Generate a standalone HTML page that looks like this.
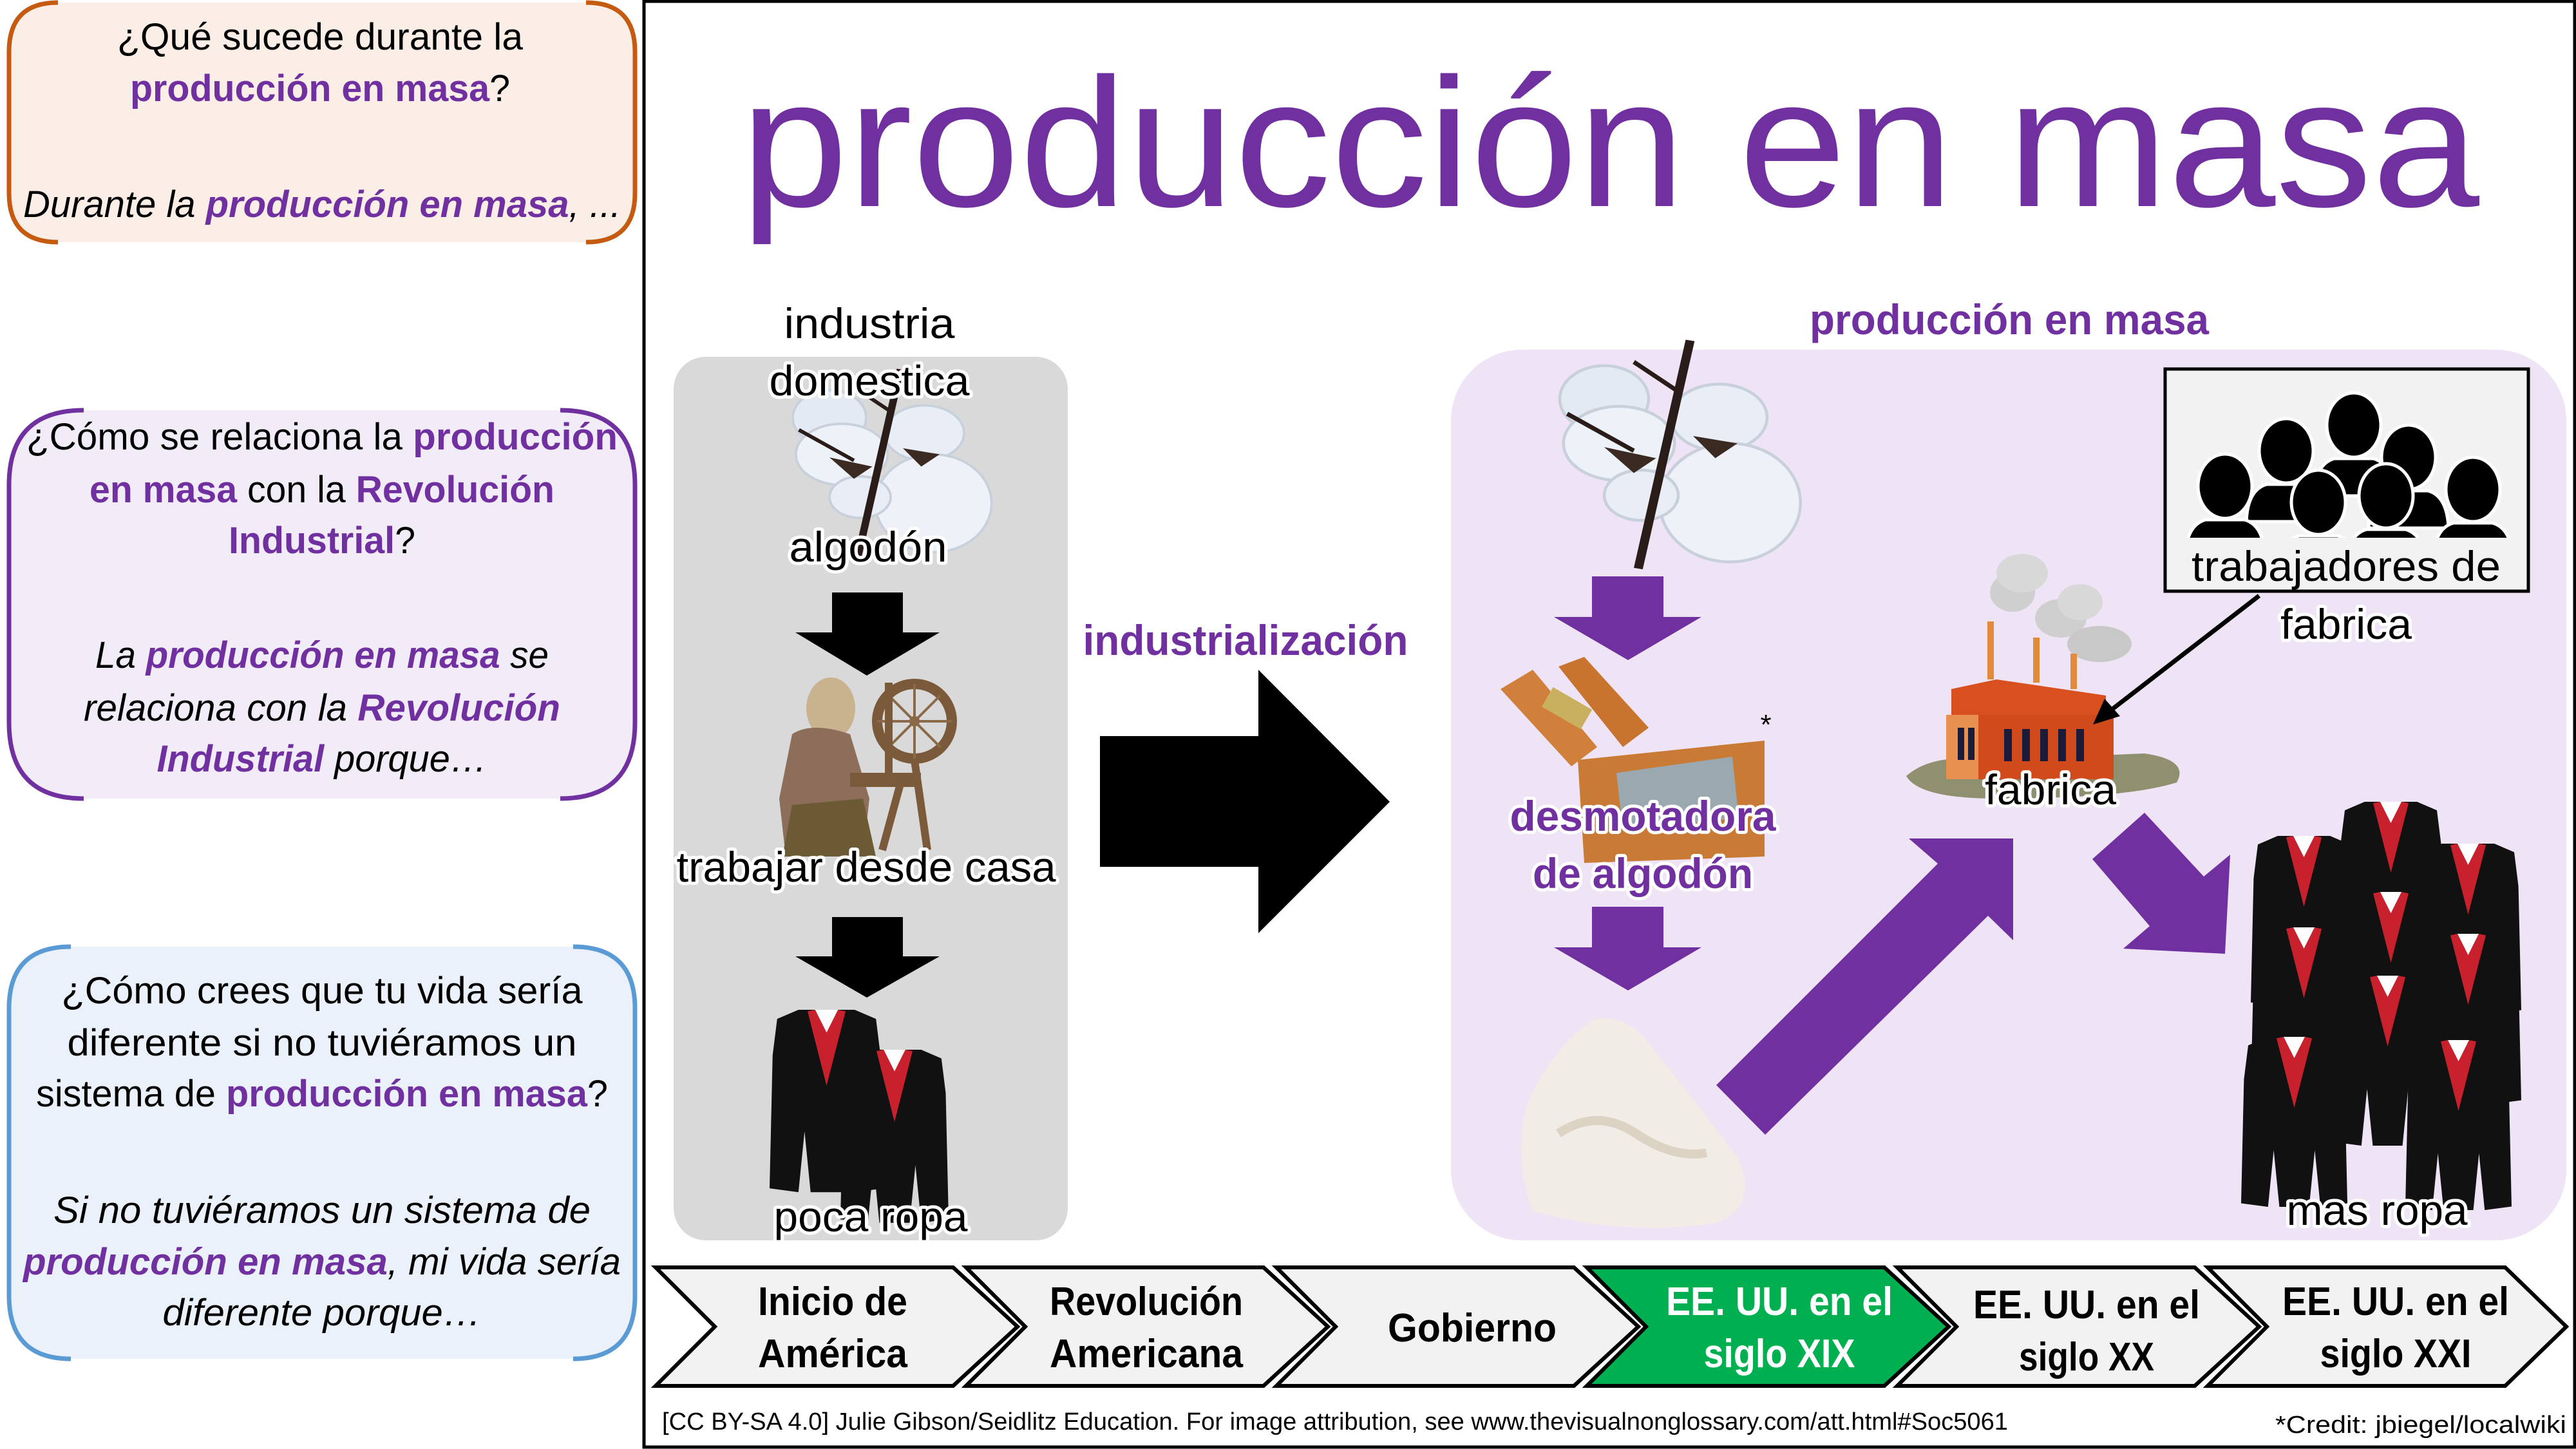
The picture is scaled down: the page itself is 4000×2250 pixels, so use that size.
<!DOCTYPE html>
<html><head><meta charset="utf-8"><style>
html,body{margin:0;padding:0;background:#fff;}
svg{display:block;}
text{font-family:"Liberation Sans",sans-serif;}
.halo{paint-order:stroke;stroke:#fff;stroke-width:10px;stroke-linejoin:round;}
</style></head><body>
<svg width="4000" height="2250" viewBox="0 0 4000 2250" xmlns="http://www.w3.org/2000/svg">
<defs>
<g id="suit">
<path d="M38,0 L112,0 L140,12 L146,60 L150,235 L112,240 L104,160 L96,240 L54,240 L46,160 L38,240 L0,235 L4,60 L10,12 Z" fill="#111"/>
<path d="M50,2 L75,100 L100,2 L90,0 L75,30 L60,0 Z" fill="#c8202c"/>
<path d="M60,0 L75,30 L90,0 Z" fill="#fff"/>
</g>
<g id="person">
<ellipse cx="0" cy="0" rx="42" ry="50" fill="#000" stroke="#fff" stroke-width="5"/>
<path d="M-62,110 Q-60,60 -30,52 L30,52 Q60,60 62,110 Z" fill="#000" stroke="#fff" stroke-width="5"/>
</g>
<g id="cotton">
<ellipse cx="-60" cy="-70" rx="60" ry="45" fill="#e4eaf4" stroke="#c8d0dc" stroke-width="4"/>
<ellipse cx="-40" cy="-10" rx="75" ry="50" fill="#edf1f8" stroke="#c8d0dc" stroke-width="4"/>
<ellipse cx="95" cy="-45" rx="65" ry="45" fill="#e8edf6" stroke="#c8d0dc" stroke-width="4"/>
<ellipse cx="110" cy="70" rx="95" ry="80" fill="#eef2f8" stroke="#c8d0dc" stroke-width="4"/>
<ellipse cx="-10" cy="60" rx="50" ry="34" fill="#e8edf6" stroke="#c8d0dc" stroke-width="4"/>
<path d="M50,-150 L62,-148 L-8,160 L-20,158 Z" fill="#2a1c18"/>
<path d="M-110,-50 L-20,0 M40,-80 L-20,-120" stroke="#2a1c18" stroke-width="6"/>
<path d="M-60,-5 L-20,30 L10,10 Z M60,-20 L90,10 L120,-10 Z" fill="#3b2a22"/>
</g>
</defs>

<!-- Left boxes -->
<path d="M90,4 Q14,4 14,80 L14,300 Q14,376 90,376 L910,376 Q986,376 986,300 L986,80 Q986,4 910,4 Z" fill="#fbeee6"/>
<path d="M90,4 Q14,4 14,80 L14,300 Q14,376 90,376 M910,4 Q986,4 986,80 L986,300 Q986,376 910,376" fill="none" stroke="#c55a11" stroke-width="7"/>
<path d="M130,637 Q14,637 14,753 L14,1122 Q14,1240 130,1240 L870,1240 Q986,1240 986,1122 L986,753 Q986,637 870,637 Z" fill="#f2ebf8"/>
<path d="M130,637 Q14,637 14,753 L14,1122 Q14,1240 130,1240 M870,637 Q986,637 986,753 L986,1122 Q986,1240 870,1240" fill="none" stroke="#7030a0" stroke-width="7"/>
<path d="M110,1470 Q14,1470 14,1566 L14,2012 Q14,2110 110,2110 L890,2110 Q986,2110 986,2012 L986,1566 Q986,1470 890,1470 Z" fill="#eaf1fa"/>
<path d="M110,1470 Q14,1470 14,1566 L14,2012 Q14,2110 110,2110 M890,1470 Q986,1470 986,1566 L986,2012 Q986,2110 890,2110" fill="none" stroke="#5b9bd5" stroke-width="7"/>

<g font-size="58" text-anchor="middle" fill="#000">
<text x="497" y="77" textLength="630" lengthAdjust="spacingAndGlyphs">¿Qué sucede durante la</text>
<text x="497" y="157" textLength="590" lengthAdjust="spacingAndGlyphs"><tspan fill="#7030a0" font-weight="bold">producción en masa</tspan>?</text>
<text x="500" y="337" font-style="italic" textLength="928" lengthAdjust="spacingAndGlyphs">Durante la <tspan fill="#7030a0" font-weight="bold">producción en masa</tspan>, ...</text>

<text x="500" y="698" textLength="918" lengthAdjust="spacingAndGlyphs">¿Cómo se relaciona la <tspan fill="#7030a0" font-weight="bold">producción</tspan></text>
<text x="500" y="780" textLength="722" lengthAdjust="spacingAndGlyphs"><tspan fill="#7030a0" font-weight="bold">en masa</tspan> con la <tspan fill="#7030a0" font-weight="bold">Revolución</tspan></text>
<text x="500" y="859" textLength="290" lengthAdjust="spacingAndGlyphs"><tspan fill="#7030a0" font-weight="bold">Industrial</tspan>?</text>
<text x="500" y="1037" font-style="italic" textLength="704" lengthAdjust="spacingAndGlyphs">La <tspan fill="#7030a0" font-weight="bold">producción en masa</tspan> se</text>
<text x="500" y="1119" font-style="italic" textLength="740" lengthAdjust="spacingAndGlyphs">relaciona con la <tspan fill="#7030a0" font-weight="bold">Revolución</tspan></text>
<text x="500" y="1198" font-style="italic" textLength="513" lengthAdjust="spacingAndGlyphs"><tspan fill="#7030a0" font-weight="bold">Industrial</tspan> porque…</text>

<text x="500" y="1558" textLength="809" lengthAdjust="spacingAndGlyphs">¿Cómo crees que tu vida sería</text>
<text x="500" y="1639" textLength="791" lengthAdjust="spacingAndGlyphs">diferente si no tuviéramos un</text>
<text x="500" y="1718" textLength="888" lengthAdjust="spacingAndGlyphs">sistema de <tspan fill="#7030a0" font-weight="bold">producción en masa</tspan>?</text>
<text x="500" y="1899" font-style="italic" textLength="834" lengthAdjust="spacingAndGlyphs">Si no tuviéramos un sistema de</text>
<text x="500" y="1979" font-style="italic" textLength="928" lengthAdjust="spacingAndGlyphs"><tspan fill="#7030a0" font-weight="bold">producción en masa</tspan>, mi vida sería</text>
<text x="500" y="2058" font-style="italic" textLength="495" lengthAdjust="spacingAndGlyphs">diferente porque…</text>
</g>

<!-- main frame -->
<rect x="1000" y="2" width="2998" height="2245" fill="none" stroke="#000" stroke-width="5"/>

<!-- Title -->
<text x="2500" y="320" font-size="285" text-anchor="middle" fill="#7030a0" textLength="2700" lengthAdjust="spacingAndGlyphs">producción en masa</text>

<!-- Grey box -->
<rect x="1046" y="554" width="612" height="1372" rx="50" fill="#d9d9d9"/>
<g transform="translate(1345,715) scale(0.95)"><use href="#cotton"/></g>
<polygon points="1292,920 1402,920 1402,982 1459,982 1346,1049 1235,982 1292,982" fill="#000"/>
<polygon points="1292,1424 1402,1424 1402,1485 1459,1485 1346,1549 1235,1485 1292,1485" fill="#000"/>
<!-- spinning woman -->
<g>
<ellipse cx="1290" cy="1100" rx="38" ry="48" fill="#c9b38e"/>
<path d="M1230,1140 Q1260,1120 1320,1140 L1350,1240 L1340,1330 L1220,1330 L1210,1240 Z" fill="#8c6e5a"/>
<path d="M1230,1250 L1340,1240 L1360,1330 L1215,1330 Z" fill="#6b5a34"/>
<circle cx="1420" cy="1120" r="58" fill="none" stroke="#7a5a3a" stroke-width="16"/>
<circle cx="1420" cy="1120" r="8" fill="#7a5a3a"/>
<path d="M1420,1062 L1420,1178 M1362,1120 L1478,1120 M1380,1080 L1460,1160 M1460,1080 L1380,1160" stroke="#8a6a48" stroke-width="4"/>
<rect x="1320" y="1200" width="110" height="22" fill="#7a5a3a"/>
<path d="M1380,1060 L1380,1210 M1420,1180 L1440,1320 M1400,1210 L1370,1320" stroke="#7a5a3a" stroke-width="12"/>
</g>
<g transform="translate(1195,1568) scale(1.18)"><use href="#suit"/></g>
<g transform="translate(1305,1630) scale(1.12)"><use href="#suit"/></g>
<g font-size="66" text-anchor="middle" fill="#000">
<text x="1350" y="525" textLength="265" lengthAdjust="spacingAndGlyphs">industria</text>
<text class="halo" x="1350" y="614" textLength="311" lengthAdjust="spacingAndGlyphs">domestica</text>
<text class="halo" x="1348" y="872" textLength="245" lengthAdjust="spacingAndGlyphs">algodón</text>
<text class="halo" x="1345" y="1369" textLength="589" lengthAdjust="spacingAndGlyphs">trabajar desde casa</text>
<text class="halo" x="1352" y="1912" textLength="301" lengthAdjust="spacingAndGlyphs">poca ropa</text>
</g>

<!-- Big black arrow -->
<polygon points="1708,1143 1954,1143 1954,1040 2158,1245 1954,1449 1954,1346 1708,1346" fill="#000"/>
<text x="1934" y="1017" font-size="66" font-weight="bold" text-anchor="middle" fill="#7030a0" textLength="505" lengthAdjust="spacingAndGlyphs">industrialización</text>

<!-- Purple box -->
<rect x="2253" y="543" width="1732" height="1383" rx="110" fill="#efe4f6"/>
<text x="3120" y="519" font-size="66" font-weight="bold" text-anchor="middle" fill="#7030a0" textLength="620" lengthAdjust="spacingAndGlyphs">producción en masa</text>
<g transform="translate(2560,700) scale(1.15)"><use href="#cotton"/></g>
<polygon points="2472,895 2583,895 2583,958 2642,958 2528,1025 2413,958 2472,958" fill="#7030a0"/>
<polygon points="2472,1408 2583,1408 2583,1471 2642,1471 2528,1538 2413,1471 2472,1471" fill="#7030a0"/>
<!-- cotton gin -->
<g>
<path d="M2330,1070 L2380,1040 L2480,1160 L2440,1190 Z" fill="#d0803a"/>
<path d="M2420,1035 L2460,1020 L2560,1130 L2520,1160 Z" fill="#c8742e"/>
<rect x="2400" y="1080" width="70" height="35" fill="#c8b060" transform="rotate(30 2430 1095)"/>
<path d="M2450,1180 L2740,1150 L2740,1330 L2460,1340 Z" fill="#c97a34"/>
<path d="M2510,1200 L2690,1175 L2700,1270 L2520,1290 Z" fill="#9aa8b0"/>
</g>
<text x="2742" y="1140" font-size="44" text-anchor="middle" fill="#000">*</text>
<text class="halo" x="2551" y="1290" font-size="66" font-weight="bold" text-anchor="middle" fill="#7030a0" textLength="413" lengthAdjust="spacingAndGlyphs">desmotadora</text>
<text class="halo" x="2551" y="1379" font-size="66" font-weight="bold" text-anchor="middle" fill="#7030a0" textLength="342" lengthAdjust="spacingAndGlyphs">de algodón</text>
<!-- cotton lump -->
<path d="M2380,1880 Q2350,1800 2370,1720 Q2400,1640 2470,1585 Q2520,1570 2560,1620 Q2640,1720 2700,1800 Q2730,1880 2660,1900 Q2520,1920 2380,1880 Z" fill="#f1ede6"/>
<path d="M2420,1760 Q2480,1720 2540,1760 Q2600,1800 2650,1790" fill="none" stroke="#ddd3c4" stroke-width="14"/>
<!-- diagonal arrows -->
<polygon points="2665,1685 3009,1341 2964,1302 3126,1302 3126,1460 3087,1422 2741,1762" fill="#7030a0"/>
<polygon points="3330,1262 3422,1361 3463,1327 3455,1481 3297,1473 3338,1438 3249,1334" fill="#7030a0"/>
<!-- factory -->
<g>
<path d="M2960,1205 Q3000,1170 3080,1180 L3330,1170 Q3400,1180 3380,1215 Q3300,1240 3100,1240 Q2980,1240 2960,1205 Z" fill="#8f9070"/>
<ellipse cx="3125" cy="920" rx="35" ry="30" fill="#cfcfcf"/><ellipse cx="3140" cy="890" rx="40" ry="30" fill="#d8d8d8"/>
<ellipse cx="3200" cy="960" rx="40" ry="30" fill="#cfcfcf"/><ellipse cx="3230" cy="935" rx="35" ry="28" fill="#d8d8d8"/>
<ellipse cx="3260" cy="1000" rx="50" ry="28" fill="#c8c8c8"/>
<rect x="3086" y="965" width="10" height="90" fill="#e08a3a"/>
<rect x="3157" y="990" width="10" height="70" fill="#e08a3a"/>
<rect x="3215" y="1015" width="10" height="55" fill="#e08a3a"/>
<path d="M3030,1070 L3100,1055 L3270,1080 L3270,1130 L3030,1130 Z" fill="#d8501e"/>
<rect x="3022" y="1110" width="260" height="100" fill="#d04a1c"/>
<rect x="3022" y="1110" width="50" height="100" fill="#e89050"/>
<g fill="#1a1a3a"><rect x="3040" y="1130" width="10" height="50"/><rect x="3056" y="1130" width="10" height="50"/><rect x="3112" y="1132" width="12" height="50"/><rect x="3140" y="1132" width="12" height="50"/><rect x="3168" y="1132" width="12" height="50"/><rect x="3196" y="1132" width="12" height="50"/><rect x="3224" y="1132" width="12" height="50"/></g>
</g>
<text class="halo" x="3184" y="1249" font-size="66" text-anchor="middle" fill="#000" textLength="204" lengthAdjust="spacingAndGlyphs">fabrica</text>
<!-- workers box -->
<rect x="3362" y="573" width="564" height="345" fill="#f2f2f2" stroke="#000" stroke-width="5"/>
<g>
<use href="#person" x="3655" y="660"/>
<use href="#person" x="3550" y="700"/>
<use href="#person" x="3740" y="710"/>
<use href="#person" x="3455" y="755"/>
<use href="#person" x="3840" y="760"/>
<use href="#person" x="3600" y="780"/>
<use href="#person" x="3705" y="770"/>
</g>
<rect x="3365" y="835" width="558" height="80" fill="#f2f2f2"/>
<text x="3643" y="902" font-size="66" text-anchor="middle" fill="#000" textLength="480" lengthAdjust="spacingAndGlyphs">trabajadores de</text>
<text class="halo" x="3643" y="992" font-size="66" text-anchor="middle" fill="#000" textLength="204" lengthAdjust="spacingAndGlyphs">fabrica</text>
<line x1="3508" y1="925" x2="3275" y2="1105" stroke="#000" stroke-width="7"/>
<polygon points="3250,1125 3268,1085 3292,1112" fill="#000"/>
<!-- mas ropa suits -->
<g transform="translate(3630,1245) scale(1.1)"><use href="#suit"/></g>
<g transform="translate(3495,1298) scale(1.1)"><use href="#suit"/></g>
<g transform="translate(3750,1310) scale(1.1)"><use href="#suit"/></g>
<g transform="translate(3630,1385) scale(1.1)"><use href="#suit"/></g>
<g transform="translate(3495,1440) scale(1.1)"><use href="#suit"/></g>
<g transform="translate(3750,1450) scale(1.1)"><use href="#suit"/></g>
<g transform="translate(3625,1515) scale(1.1)"><use href="#suit"/></g>
<g transform="translate(3480,1610) scale(1.1)"><use href="#suit"/></g>
<g transform="translate(3735,1615) scale(1.1)"><use href="#suit"/></g>
<text class="halo" x="3691" y="1902" font-size="66" text-anchor="middle" fill="#000" textLength="281" lengthAdjust="spacingAndGlyphs">mas ropa</text>

<!-- Timeline chevrons -->
<g stroke="#000" stroke-width="6" stroke-linejoin="miter">
<polygon points="1018,1968 1480,1968 1580,2060 1480,2152 1018,2152 1110,2060" fill="#f2f2f2"/>
<polygon points="1500,1968 1962,1968 2062,2060 1962,2152 1500,2152 1592,2060" fill="#f2f2f2"/>
<polygon points="1982,1968 2444,1968 2544,2060 2444,2152 1982,2152 2074,2060" fill="#f2f2f2"/>
<polygon points="2464,1968 2926,1968 3026,2060 2926,2152 2464,2152 2556,2060" fill="#00b050"/>
<polygon points="2946,1968 3408,1968 3508,2060 3408,2152 2946,2152 3038,2060" fill="#f2f2f2"/>
<polygon points="3428,1968 3890,1968 3985,2060 3890,2152 3428,2152 3520,2060" fill="#f2f2f2"/>
</g>
<g font-size="62" font-weight="bold" text-anchor="middle" fill="#000">
<text x="1293" y="2042" textLength="232" lengthAdjust="spacingAndGlyphs">Inicio de</text>
<text x="1293" y="2123" textLength="232" lengthAdjust="spacingAndGlyphs">América</text>
<text x="1780" y="2042" textLength="300" lengthAdjust="spacingAndGlyphs">Revolución</text>
<text x="1780" y="2123" textLength="300" lengthAdjust="spacingAndGlyphs">Americana</text>
<text x="2286" y="2083" textLength="262" lengthAdjust="spacingAndGlyphs">Gobierno</text>
<text x="2763" y="2042" fill="#fff" textLength="352" lengthAdjust="spacingAndGlyphs">EE. UU. en el</text>
<text x="2763" y="2123" fill="#fff" textLength="235" lengthAdjust="spacingAndGlyphs">siglo XIX</text>
<text x="3240" y="2047" textLength="352" lengthAdjust="spacingAndGlyphs">EE. UU. en el</text>
<text x="3240" y="2128" textLength="210" lengthAdjust="spacingAndGlyphs">siglo XX</text>
<text x="3720" y="2042" textLength="352" lengthAdjust="spacingAndGlyphs">EE. UU. en el</text>
<text x="3720" y="2123" textLength="235" lengthAdjust="spacingAndGlyphs">siglo XXI</text>
</g>
<text x="1028" y="2220" font-size="38" fill="#000" textLength="2090" lengthAdjust="spacingAndGlyphs">[CC BY-SA 4.0] Julie Gibson/Seidlitz Education. For image attribution, see www.thevisualnonglossary.com/att.html#Soc5061</text>
<text x="3985" y="2225" font-size="38" text-anchor="end" fill="#000" textLength="452" lengthAdjust="spacingAndGlyphs">*Credit: jbiegel/localwiki</text>
</svg>
</body></html>
